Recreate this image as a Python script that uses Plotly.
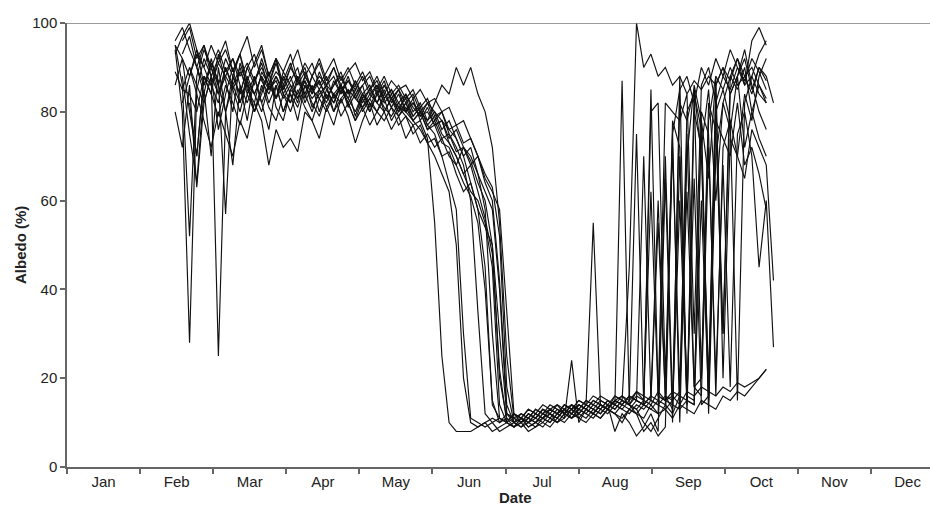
import plotly.graph_objects as go

# Day-of-year sample grid (every 3 days, mid-Feb to late Oct)
DAYS = list(range(45, 295, 3))  # 84 samples

MONTHS = ["Jan", "Feb", "Mar", "Apr", "May", "Jun", "Jul", "Aug", "Sep", "Oct", "Nov", "Dec"]
Y_TICKS = [0, 20, 40, 60, 80, 100]

N = None
S1 = [89, 85, 84, 80, 88, 86, 82, 90, 85, 80,
      87, 84, 88, 82, 86, 80, 85, 83, 87, 81,
      84, 86, 80, 83, 85, 79, 84, 82, 80, 83,
      78, 81, 79, 77, 78, 74, 55, 25, 10, 8,
      8, 8, 9, 10, 11, 10, 12, 11, 12, 11,
      13, 12, 13, 12, 14, 13, 14, 13, 15, 14,
      13, 15, 14, 16, 15, 70, 15, 14, 16, 13,
      60, 14, 85, 20, 78, 88, 85, 90, 86, 88,
      84, 90, 87, N]
S2 = [95, 92, 88, 93, 90, 86, 91, 88, 85, 89,
      86, 84, 88, 85, 87, 83, 86, 84, 88, 85,
      83, 86, 84, 82, 85, 83, 81, 84, 82, 80,
      83, 81, 80, 82, 80, 78, 82, 86, 84, 90,
      86, 90, 84, 80, 72, 55, 25, 11, 10, 12,
      11, 13, 12, 14, 13, 12, 14, 13, 15, 14,
      13, 16, 15, 14, 16, 15, 14, 17, 15, 16,
      14, 17, 16, 18, 17, 16, 18, 17, 19, 18,
      19, 20, 22, N]
S3 = [N, 96, 99, 92, 95, 90, 94, 89, 92, 88,
      91, 87, 90, 86, 89, 87, 91, 86, 89, 85,
      88, 86, 90, 85, 87, 84, 86, 88, 84, 86,
      83, 85, 82, 84, 80, 82, 78, 80, 75, 72,
      68, 60, 35, 12, 10, 11, 10, 12, 11, 13,
      12, 11, 13, 14, 12, 14, 13, 15, 14, 13,
      15, 14, 87, 14, 13, 15, 80, 82, 20, 75,
      85, 88, 82, 90, 86, 92, 88, 85, 90, 87,
      92, 89, 85, N]
S4 = [94, 80, 28, 85, 92, 88, 84, 90, 86, 82,
      88, 84, 80, 86, 83, 88, 84, 81, 86, 83,
      85, 81, 84, 86, 82, 85, 81, 83, 80, 84,
      81, 79, 82, 78, 76, 73, 70, 66, 62, 50,
      20, 10, 9, 10, 8, 9, 10, 9, 11, 10,
      9, 11, 10, 12, 11, 24, 10, 13, 12, 11,
      13, 12, 10, 13, 12, 11, 14, 12, 13, 11,
      14, 13, 12, 15, 14, 13, 16, 15, 17, 16,
      18, 20, 22, N]
S5 = [N, 85, 90, 86, 82, 88, 25, 80, 86, 90,
      84, 88, 82, 86, 91, 85, 88, 83, 87, 84,
      89, 85, 82, 86, 83, 87, 84, 86, 82, 85,
      81, 84, 80, 82, 79, 80, 77, 78, 74, 76,
      72, 70, 66, 58, 30, 11, 10, 12, 11, 10,
      12, 11, 13, 12, 14, 13, 15, 14, 55, 14,
      13, 15, 14, 16, 15, 14, 16, 60, 15, 14,
      70, 16, 15, 78, 15, 84, 30, 88, 92, 86,
      96, 99, 95, N]
S6 = [95, 86, 52, 88, 94, 90, 86, 92, 88, 84,
      90, 93, 87, 84, 88, 85, 90, 87, 84, 88,
      91, 86, 88, 84, 87, 85, 88, 84, 86, 83,
      85, 82, 84, 80, 82, 78, 80, 76, 78, 74,
      70, 72, 66, 62, 58, 40, 12, 11, 10, 12,
      11, 13, 12, 11, 13, 14, 12, 14, 13, 15,
      14, 13, 15, 45, 100, 90, 93, 88, 90, 86,
      88, 84, 87, 85, 88, 86, 90, 87, 92, 88,
      90, 86, 83, N]
S7 = [N, 93, 97, 90, 86, 91, 87, 57, 88, 84,
      90, 86, 92, 87, 83, 89, 86, 82, 88, 85,
      87, 83, 86, 89, 84, 86, 82, 85, 87, 83,
      85, 81, 83, 79, 81, 77, 79, 75, 73, 70,
      66, 62, 60, 55, 45, 14, 10, 9, 10, 8,
      9, 10, 9, 11, 10, 12, 11, 10, 12, 11,
      13, 12, 11, 13, 12, 14, 13, 12, 70, 14,
      13, 15, 65, 14, 16, 80, 85, 78, 15, 82,
      88, 93, 96, N]
S8 = [N, N, 90, 84, 78, 72, 80, 75, 70, 78,
      74, 82, 78, 68, 76, 72, 74, 71, 80, 78,
      74, 81, 77, 83, 79, 73, 78, 82, 77, 80,
      76, 79, 74, 77, 73, 75, 72, 74, 70, 68,
      72, 69, 64, 60, 50, 20, 11, 10, 12, 11,
      13, 12, 14, 13, 12, 14, 13, 15, 14, 16,
      15, 14, 16, 15, 17, 16, 15, 55, 16, 15,
      17, 62, 18, 16, 72, 20, 68, 18, 75, 80,
      70, 45, 60, 27]
S9 = [96, 99, 94, 90, 95, 88, 92, 96, 89, 93,
      87, 91, 95, 88, 92, 86, 90, 94, 88, 91,
      86, 89, 92, 87, 90, 86, 89, 85, 88, 84,
      87, 85, 86, 83, 85, 82, 83, 80, 81, 77,
      78, 74, 70, 65, 62, 58, 35, 12, 10, 11,
      10, 12, 11, 13, 12, 11, 13, 12, 14, 13,
      15, 14, 13, 15, 75, 14, 16, 15, 82, 80,
      78, 84, 30, 86, 90, 82, 88, 94, 90, 86,
      88, 84, 82, N]
S10 = [N, 88, 75, 64, 85, 70, 90, 80, 68, 86,
       78, 88, 82, 76, 86, 80, 84, 78, 86, 82,
       79, 84, 80, 85, 82, 78, 83, 80, 84, 81,
       79, 82, 80, 78, 80, 76, 78, 74, 75, 71,
       72, 68, 70, 64, 60, 42, 14, 10, 9, 10,
       11, 10, 12, 11, 13, 12, 14, 13, 12, 14,
       13, 15, 14, 16, 15, 14, 85, 16, 15, 72,
       17, 80, 84, 76, 12, 70, 82, 88, 85, 90,
       80, 86, 82, N]
S11 = [93, 97, 100, 94, 90, 95, 91, 94, 89, 93,
       97, 90, 94, 88, 92, 89, 93, 87, 91, 88,
       92, 87, 90, 86, 89, 91, 87, 89, 85, 88,
       84, 86, 83, 85, 81, 83, 79, 80, 76, 74,
       70, 64, 58, 45, 14, 11, 10, 12, 11, 13,
       12, 14, 13, 12, 14, 13, 15, 14, 16, 15,
       14, 16, 15, 14, 17, 15, 62, 16, 15, 17,
       16, 75, 18, 20, 82, 76, 30, 84, 88, 92,
       85, 90, 88, 82]
S12 = [N, N, 82, 70, 88, 84, 79, 86, 82, 77,
       84, 80, 86, 81, 78, 84, 80, 85, 81, 78,
       83, 80, 84, 79, 82, 78, 81, 77, 80, 78,
       81, 77, 79, 75, 77, 73, 74, 70, 71, 66,
       62, 64, 58, 54, 50, 30, 12, 10, 11, 9,
       10, 12, 11, 10, 12, 13, 11, 13, 12, 14,
       13, 12, 14, 13, 15, 14, 13, 15, 14, 78,
       72, 15, 14, 80, 75, 16, 72, 78, 70, 65,
       76, 72, 68, 42]
S13 = [80, 72, 86, 63, 82, 88, 76, 84, 90, 82,
       87, 80, 85, 89, 83, 86, 82, 88, 84, 80,
       85, 88, 83, 86, 81, 84, 80, 83, 86, 82,
       84, 80, 82, 79, 81, 77, 75, 70, 64, 58,
       30, 11, 10, 9, 10, 8, 9, 10, 9, 11,
       10, 9, 11, 10, 12, 11, 13, 12, 11, 13,
       12, 14, 13, 12, 14, 13, 15, 14, 13, 15,
       82, 78, 85, 70, 20, 86, 90, 84, 88, 94,
       86, 80, 76, N]
S14 = [N, N, N, 90, 84, 92, 86, 80, 88, 93,
       85, 82, 89, 86, 92, 84, 87, 90, 83, 88,
       85, 82, 87, 84, 88, 83, 86, 80, 84, 87,
       82, 85, 80, 83, 78, 81, 77, 78, 73, 70,
       66, 68, 62, 56, 48, 22, 10, 9, 11, 10,
       12, 11, 10, 12, 13, 11, 12, 14, 13, 12,
       14, 8, 12, 10, 7, 9, 12, 8, 65, 10,
       88, 12, 80, 72, 85, 60, 82, 76, 88, 72,
       80, 74, 70, N]
S15 = [86, 92, 80, 70, 88, 84, 93, 87, 80, 91,
       86, 80, 84, 89, 81, 78, 85, 88, 82, 86,
       80, 85, 82, 86, 83, 80, 84, 81, 85, 80,
       83, 79, 81, 78, 80, 76, 77, 73, 72, 68,
       64, 61, 55, 40, 15, 10, 11, 9, 10, 12,
       11, 13, 12, 11, 13, 12, 14, 13, 12, 14,
       13, 15, 16, 14, 12, 8, 10, 7, 9, 75,
       10, 70, 86, 78, 65, 88, 20, 74, 70, 84,
       78, 88, 92, N]
S16 = [N, 82, 88, 94, 86, 90, 84, 88, 92, 86,
       82, 87, 91, 85, 88, 84, 82, 87, 90, 84,
       87, 83, 86, 88, 84, 87, 83, 85, 82, 86,
       83, 80, 84, 81, 79, 82, 80, 78, 76, 77,
       73, 74, 70, 66, 63, 52, 18, 10, 11, 9,
       10, 11, 12, 10, 11, 13, 12, 11, 13, 12,
       14, 13, 15, 14, 13, 10, 8, 11, 14, 12,
       16, 15, 14, 60, 15, 78, 74, 70, 82, 68,
       72, 66, 58, N]

SERIES = [S1, S2, S3, S4, S5, S6, S7, S8, S9, S10, S11, S12, S13, S14, S15, S16]

MONTH_LEN = 365 / 12
month_edges = [i * MONTH_LEN for i in range(13)]
month_mids = [(i + 0.5) * MONTH_LEN for i in range(12)]

fig = go.Figure()
for s in SERIES:
    fig.add_trace(go.Scatter(x=DAYS, y=s, mode="lines",
                             line=dict(color="#111111", width=1.15),
                             connectgaps=False, showlegend=False,
                             hoverinfo="skip"))

FONT = "Liberation Sans, Arial, sans-serif"
W, H = 930, 507
L, R, T, B = 67, 0, 23, 40
px_per_day = 2.403
x_max = (W - L - R) / px_per_day

fig.update_layout(
    width=W, height=H,
    margin=dict(l=L, r=R, t=T, b=B),
    paper_bgcolor="white", plot_bgcolor="white",
    font=dict(family=FONT, size=15, color="#222222"),
    showlegend=False,
    xaxis=dict(range=[0, x_max], tickmode="array", tickvals=month_mids,
               ticktext=MONTHS, ticks="", showgrid=False, zeroline=False,
               showline=True, linecolor="#666666", linewidth=1.5,
               tickfont=dict(size=15, color="#222222"),
               minor=dict(tickmode="array", tickvals=month_edges, ticks="outside",
                          ticklen=5, tickcolor="#666666", tickwidth=1.5, showgrid=False)),
    yaxis=dict(range=[0, 100], tickmode="array", tickvals=Y_TICKS,
               ticks="outside", ticklen=5, tickcolor="#666666", tickwidth=1.5,
               showgrid=False, zeroline=False, showline=True,
               linecolor="#666666", linewidth=1.5,
               tickfont=dict(size=15, color="#222222")),
)

# top reference line at 100
fig.add_shape(type="line", xref="paper", yref="y", x0=0, x1=1, y0=100, y1=100,
              line=dict(color="#777777", width=1.5))

fig.add_annotation(text="<b>Albedo (%)</b>", xref="paper", yref="paper",
                   x=-(L - 20) / (W - L - R), y=0.5, textangle=-90,
                   showarrow=False, font=dict(size=15, color="#222222", family=FONT),
                   xanchor="center", yanchor="middle")
fig.add_annotation(text="<b>Date</b>", xref="paper", yref="paper",
                   x=(515 - L) / (W - L - R), y=-(497 - (H - B)) / (H - T - B),
                   showarrow=False, font=dict(size=15, color="#222222", family=FONT),
                   xanchor="center", yanchor="middle")

fig.write_html("out.html")
